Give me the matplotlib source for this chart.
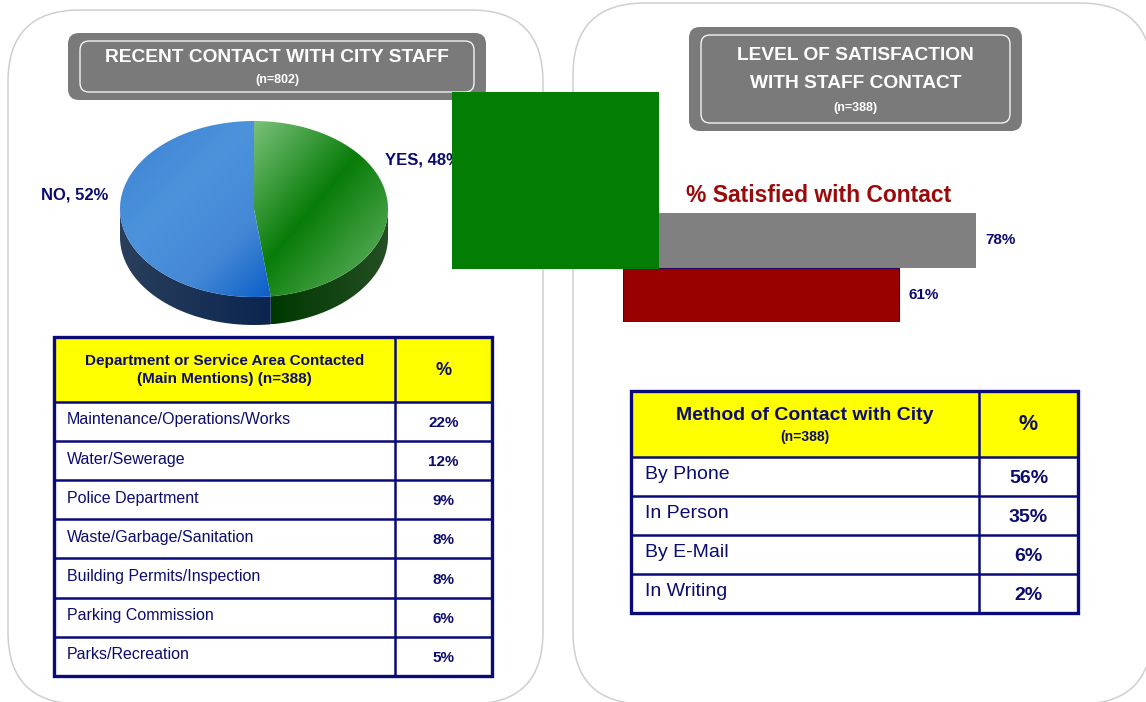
import matplotlib.pyplot as plt
import numpy as np
from matplotlib.patches import FancyBboxPatch, Rectangle, Polygon
from matplotlib.colors import LinearSegmentedColormap

plt.rcParams['font.family'] = ['Liberation Sans', 'DejaVu Sans']

# ---- data ----
contact_labels = ["YES", "NO"]
contact_pcts = [48, 52]

dept_names = ["Maintenance/Operations/Works", "Water/Sewerage",
              "Police Department", "Waste/Garbage/Sanitation",
              "Building Permits/Inspection", "Parking Commission",
              "Parks/Recreation"]
dept_pcts = [22, 12, 9, 8, 8, 6, 5]

sat_values = [78, 61]
sat_colors = ["#808080", "#990000"]

method_names = ["By Phone", "In Person", "By E-Mail", "In Writing"]
method_pcts = [56, 35, 6, 2]

W, H = 1146, 702
NAVY = "#0c0c6e"
BORDER = "#0a0a78"

fig = plt.figure(figsize=(W / 100, H / 100), dpi=100)


def pixel_axes(zorder):
    a = fig.add_axes([0, 0, 1, 1], zorder=zorder)
    a.axis('off')
    a.patch.set_alpha(0)
    return a


def fix_limits(a):
    a.set_xlim(0, W)
    a.set_ylim(H, 0)


ax = pixel_axes(0)

# panels
for (x, y, w, h) in [(8, 10, 535, 694), (573, 3, 579, 701)]:
    ax.add_patch(FancyBboxPatch((x, y), w, h,
                                boxstyle="round,pad=0,rounding_size=72",
                                facecolor="white", edgecolor="#cfcfcf", lw=1.1))


def title_box(x, y, w, h, lines, sizes):
    ax.add_patch(FancyBboxPatch((x, y), w, h,
                                boxstyle="round,pad=0,rounding_size=11",
                                facecolor="#7a7a7a", edgecolor="none"))
    ax.add_patch(FancyBboxPatch((x + 12, y + 8), w - 24, h - 16,
                                boxstyle="round,pad=0,rounding_size=9",
                                facecolor="none", edgecolor="white", lw=0.9))
    for (ty, txt), s in zip(lines, sizes):
        ax.text(x + w / 2, ty, txt, color="white", fontsize=s,
                fontweight="bold", ha="center", va="center")


title_box(68, 33, 418, 67, [(57, "RECENT CONTACT WITH CITY STAFF"), (80, "(n=802)")],
          [13.8, 9])
title_box(689, 27, 333, 104,
          [(55, "LEVEL OF SATISFACTION"), (83, "WITH STAFF CONTACT"), (108, "(n=388)")],
          [13.8, 13.8, 9])

# ---- 3D pie ----
cx, cy, ra, rb, depth = 254, 209, 134, 88, 28
top_cmaps = [
    LinearSegmentedColormap.from_list("g", [(0, "#7ac27a"), (0.47, "#087c08"), (1, "#6cb86c")]),
    LinearSegmentedColormap.from_list("b", [(0, "#3b80d0"), (0.4, "#4c93dc"),
                                            (0.72, "#4488d5"), (1, "#0a5ec8")]),
]
side_cmaps = [
    LinearSegmentedColormap.from_list("gs", [(0, "#003800"), (1, "#244f24")]),
    LinearSegmentedColormap.from_list("bs", [(0, "#2a3f5c"), (1, "#0b2550")]),
]


def grad_fill(pts, cmap, dirx, diry, z):
    poly = Polygon(pts, closed=True, facecolor="none", edgecolor="none")
    ax.add_patch(poly)
    x0, y0 = pts[:, 0].min(), pts[:, 1].min()
    x1, y1 = pts[:, 0].max(), pts[:, 1].max()
    gx, gy = np.meshgrid(np.linspace(0, x1 - x0, 200), np.linspace(0, y1 - y0, 200))
    u = gx * dirx + gy * diry
    u = (u - u.min()) / (u.max() - u.min())
    im = ax.imshow(u, cmap=cmap, extent=(x0, x1, y1, y0), origin="upper",
                   aspect="auto", interpolation="bilinear", zorder=z)
    im.set_clip_path(poly)


t0 = -np.pi / 2
for i, pct in enumerate(contact_pcts):
    t1 = t0 + 2 * np.pi * pct / 100
    # side wall (front half only)
    lo, hi = max(t0, 0), min(t1, np.pi)
    if hi > lo:
        t = np.linspace(lo, hi, 80)
        xs, ys = cx + ra * np.cos(t), cy + rb * np.sin(t)
        side = np.column_stack([np.r_[xs, xs[::-1]], np.r_[ys, ys[::-1] + depth]])
        grad_fill(side, side_cmaps[i], 1, 0, 2)
    # top face
    t = np.linspace(t0, t1, 120)
    top = np.column_stack([np.r_[cx, cx + ra * np.cos(t)], np.r_[cy, cy + rb * np.sin(t)]])
    if i == 0:
        grad_fill(top, top_cmaps[i], 1, 0.85, 3)
    else:
        grad_fill(top, top_cmaps[i], 1, 1, 3)
    t0 = t1

ax.text(385, 160, f"{contact_labels[0]}, {contact_pcts[0]}%", color=NAVY,
        fontsize=12, fontweight="bold", ha="left", va="center")
ax.text(108, 195, f"{contact_labels[1]}, {contact_pcts[1]}%", color=NAVY,
        fontsize=12, fontweight="bold", ha="right", va="center")


# ---- tables ----
def draw_table(x0, x1, xs, ytop, hh, rh, header, header_sizes, names, pcts,
               name_size, val_size, lx):
    n = len(names)
    ybot = ytop + hh + rh * n
    ax.add_patch(Rectangle((x0, ytop), x1 - x0, hh, facecolor="#ffff00",
                           edgecolor="none", zorder=4))
    ax.add_patch(Rectangle((x0, ytop + hh), x1 - x0, rh * n, facecolor="white",
                           edgecolor="none", zorder=4))
    for k in range(n + 1):
        yy = ytop + hh + rh * k
        ax.plot([x0, x1], [yy, yy], color=BORDER, lw=1.8, zorder=5)
    ax.plot([xs, xs], [ytop, ybot], color=BORDER, lw=1.8, zorder=5)
    ax.add_patch(Rectangle((x0, ytop), x1 - x0, ybot - ytop, facecolor="none",
                           edgecolor=BORDER, lw=2.4, zorder=6))
    for (ty, txt), s in zip(header, header_sizes):
        ax.text((x0 + xs) / 2, ty, txt, color=NAVY, fontsize=s, fontweight="bold",
                ha="center", va="center", zorder=7, linespacing=1.3)
    ax.text((xs + x1) / 2, ytop + hh / 2 + 1, "%", color=NAVY, fontsize=name_size + 1.5,
            fontweight="bold", ha="center", va="center", zorder=7)
    for k, (nm, p) in enumerate(zip(names, pcts)):
        ry = ytop + hh + rh * k
        ax.text(lx, ry + rh * 0.46, nm, color=NAVY, fontsize=name_size,
                ha="left", va="center", zorder=7)
        ax.text((xs + x1) / 2, ry + rh * 0.54, f"{p}%", color=NAVY, fontsize=val_size,
                fontweight="bold", ha="center", va="center", zorder=7)


draw_table(54, 492, 395, 337, 65, 39.1,
           [(370, "Department or Service Area Contacted\n(Main Mentions) (n=388)")], [11],
           dept_names, dept_pcts, 11.5, 11, 67)
draw_table(631, 1078, 979, 391, 66, 39,
           [(415, "Method of Contact with City"), (437, "(n=388)")], [14, 10],
           method_names, method_pcts, 14, 14, 645)

# ---- satisfaction bars ----
ax.text(819, 196, "% Satisfied with Contact", color="#9a0a0a", fontsize=16.5,
        fontweight="bold", ha="center", va="center")

bx = fig.add_axes([623 / W, (H - 322) / H, 453 / W, 109 / H], zorder=1)
bx.axis('off')
bx.patch.set_alpha(0)
ypos = [1, 0]
bars = bx.barh(ypos, sat_values, height=1.0, color=sat_colors)
bars[1].set_edgecolor("#2a0a5a")
bars[1].set_linewidth(0.8)
for yv, v in zip(ypos, sat_values):
    bx.text(v + 2, yv, f"{v}%", color=NAVY, fontsize=11, fontweight="bold",
            ha="left", va="center")
bx.set_xlim(0, 100)
bx.set_ylim(-0.5, 1.5)

fix_limits(ax)

# ---- overlay box ----
top_ax = pixel_axes(5)
top_ax.add_patch(Rectangle((452, 92), 207, 177, facecolor="#037d03", edgecolor="none"))
fix_limits(top_ax)

fig.savefig("out.png", dpi=100)
